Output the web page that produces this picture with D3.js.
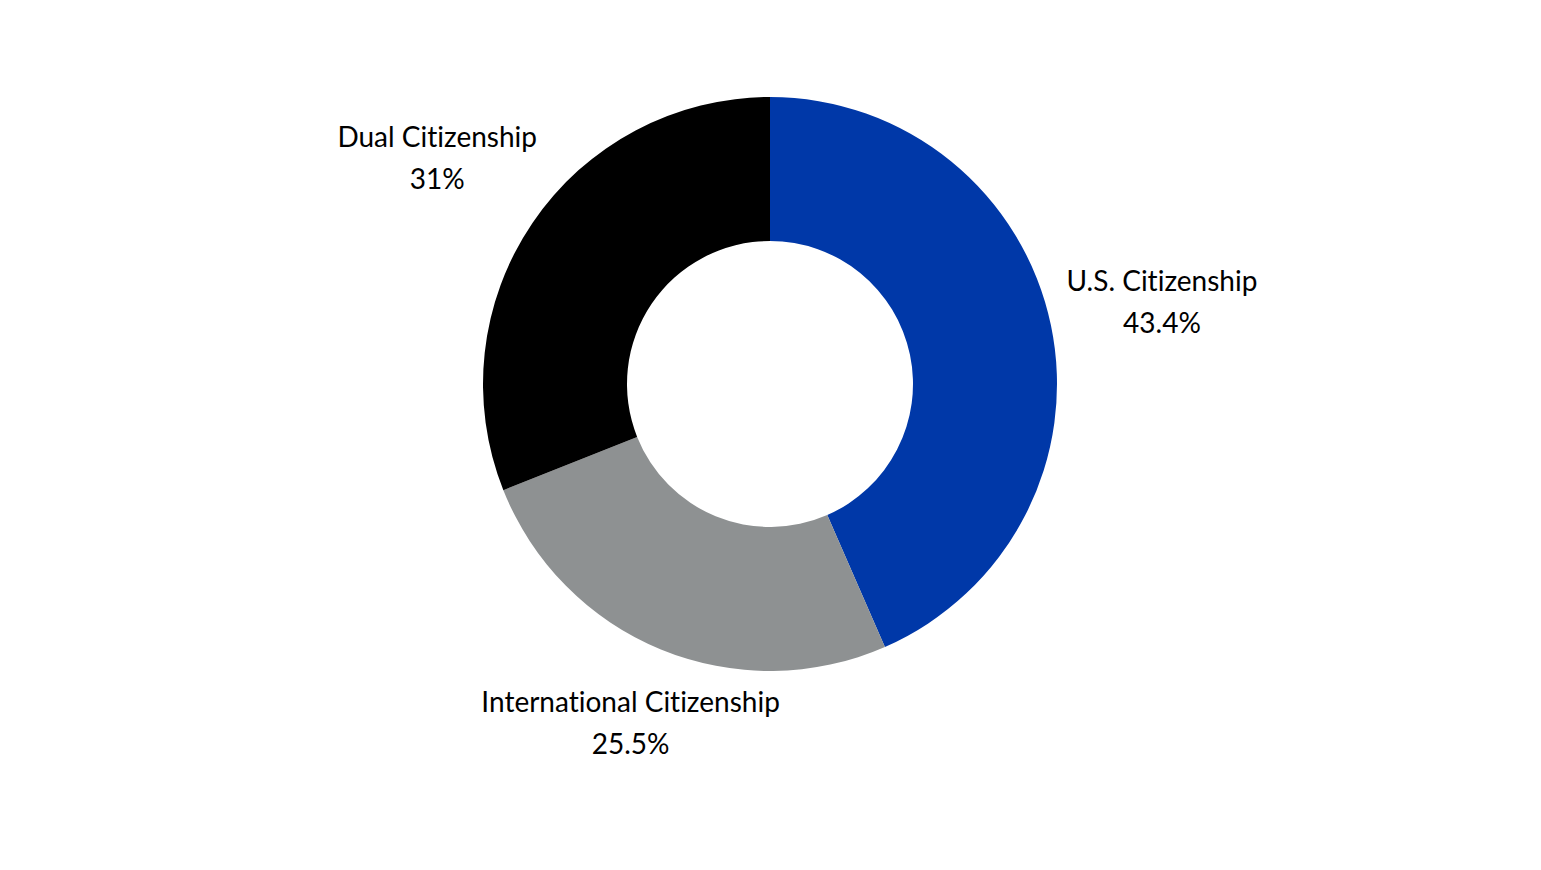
<!DOCTYPE html>
<html>
<head>
<meta charset="utf-8">
<script src="https://cdn.jsdelivr.net/npm/d3@7"></script>
<style>
  body { margin: 0; background: #fff; }
  text { font-family: "Lato", "Open Sans", sans-serif; font-variant-ligatures: none; }
</style>
</head>
<body>
<div id="chart"></div>
<script>
const categories = ["U.S. Citizenship", "International Citizenship", "Dual Citizenship"];
const values = [43.4, 25.5, 31];
const valueLabels = ["43.4%", "25.5%", "31%"];
const colors = ["#0038a8", "#8e9192", "#000000"];

const width = 1541,
  height = 870;
const cx = 770, cy = 384;
const outerR = 287, innerR = 143;
const labelGap = 300; // distance from centre to nearest edge of each label box

const svg = d3.select("#chart").append("svg")
  .attr("width", width)
  .attr("height", height);

const g = svg.append("g")
  .attr("transform", `translate(${cx},${cy})`);

const pie = d3.pie().sort(null).value(d => d.value);
const data = pie(categories.map((c, i) => ({ name: c, value: values[i], label: valueLabels[i], color: colors[i] })));

const arc = d3.arc().innerRadius(innerR).outerRadius(outerR);

g.selectAll("path.slice")
  .data(data)
  .join("path")
  .attr("class", "slice")
  .attr("d", arc)
  .attr("fill", d => d.data.color);

// labels, pushed out along the slice's mid angle until the box clears the ring
const labels = g.selectAll("g.label")
  .data(data)
  .join("g")
  .attr("class", "label");

labels.append("text")
  .attr("text-anchor", "middle")
  .attr("font-size", 28)
  .attr("fill", "#000")
  .attr("y", -21)
  .attr("dy", "0.35em")
  .text(d => d.data.name);

labels.append("text")
  .attr("text-anchor", "middle")
  .attr("font-size", 28)
  .attr("fill", "#000")
  .attr("y", 21)
  .attr("dy", "0.35em")
  .text(d => d.data.label);

function boxDist(b, ox, oy) {
  const x0 = b.x + ox, x1 = b.x + b.width + ox;
  const y0 = b.y + oy, y1 = b.y + b.height + oy;
  const px = Math.max(x0, Math.min(0, x1));
  const py = Math.max(y0, Math.min(0, y1));
  return Math.hypot(px, py);
}

labels.each(function (d) {
  const b = this.getBBox();
  const a = (d.startAngle + d.endAngle) / 2;
  const ux = Math.sin(a), uy = -Math.cos(a);
  let lo = 0, hi = 800;
  for (let k = 0; k < 40; k++) {
    const t = (lo + hi) / 2;
    if (boxDist(b, ux * t, uy * t) < labelGap) lo = t; else hi = t;
  }
  d3.select(this).attr("transform", `translate(${ux * hi},${uy * hi})`);
});
</script>
</body>
</html>
